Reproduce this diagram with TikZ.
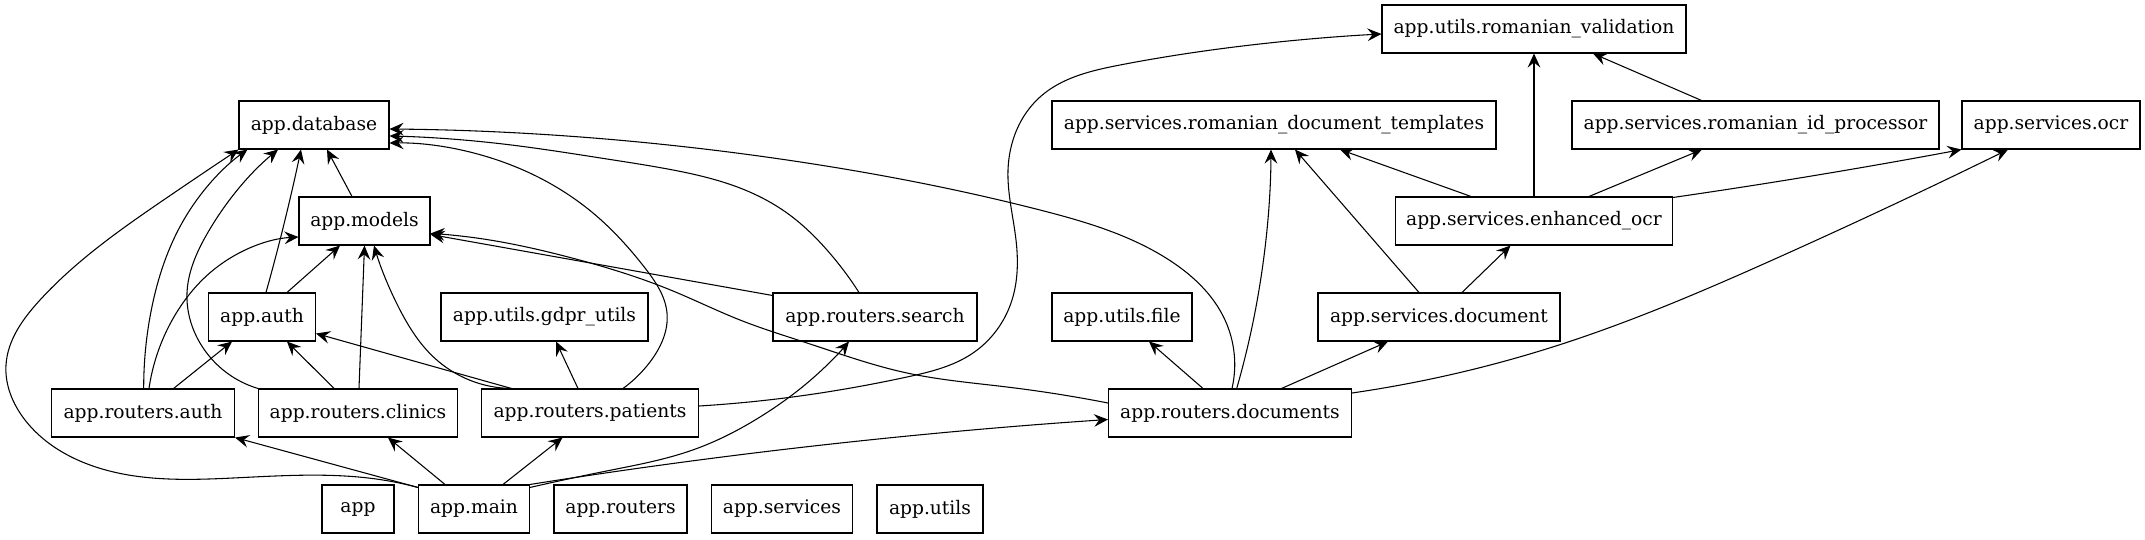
\documentclass[tikz,border=0pt]{standalone}
\usepackage{fontspec}
\newfontfamily\modfont{DejaVu Serif}
\usetikzlibrary{arrows.meta,calc,hobby}
\tikzset{
  mod/.style={draw, line width=0.8pt, minimum height=36pt, inner sep=0pt,
    font=\modfont\fontsize{14}{16}\selectfont},
  dep/.style={line width=0.8pt, -{Stealth[length=10.5pt,width=9.5pt,inset=3.8pt]}},
  curved/.style={dep, use Hobby shortcut},
}
\begin{document}
\begin{tikzpicture}[x=0.75pt,y=-0.75pt]
\fill[white] (0,0) rectangle (2145,539);
\useasboundingbox (0,0) rectangle (2145,539);
% nodes
\node[mod, minimum width=228pt]    (validation) at (1534,29)  {app.utils.romanian\_validation};
\node[mod, minimum width=112.5pt]  (database)   at (314,125)  {app.database};
\node[mod, minimum width=333pt]    (templates)  at (1274,125) {app.services.romanian\_document\_templates};
\node[mod, minimum width=275.25pt] (idproc)     at (1755.5,125) {app.services.romanian\_id\_processor};
\node[mod, minimum width=133.5pt]  (ocr)        at (2051,125) {app.services.ocr};
\node[mod, minimum width=98.25pt]  (models)     at (364.5,221) {app.models};
\node[mod, minimum width=207.75pt] (enhanced)   at (1534,221) {app.services.enhanced\_ocr};
\node[mod, minimum width=80.25pt]  (auth)       at (262,317)  {app.auth};
\node[mod, minimum width=155.25pt] (gdpr)       at (544.5,317) {app.utils.gdpr\_utils};
\node[mod, minimum width=153pt]    (search)     at (875,317)  {app.routers.search};
\node[mod, minimum width=105pt]    (file)       at (1122,317) {app.utils.file};
\node[mod, minimum width=181.5pt]  (sdoc)       at (1439,317) {app.services.document};
\node[mod, minimum width=137.25pt] (rauth)      at (143,413)  {app.routers.auth};
\node[mod, minimum width=149.25pt] (clinics)    at (358,413)  {app.routers.clinics};
\node[mod, minimum width=162.75pt] (patients)   at (590,413)  {app.routers.patients};
\node[mod, minimum width=182.25pt] (documents)  at (1230,413) {app.routers.documents};
\node[mod, minimum width=54pt]     (app)        at (358,509)  {app};
\node[mod, minimum width=83.25pt]  (main)       at (474,509)  {app.main};
\node[mod, minimum width=99.75pt]  (routers)    at (620.5,509) {app.routers};
\node[mod, minimum width=105.75pt] (services)   at (782,509)  {app.services};
\node[mod, minimum width=79.5pt]   (utils)      at (930,509)  {app.utils};
% anchor points for curved edges
\coordinate (a2) at ($(auth.north)+(4,0)$);
\coordinate (b2) at ($(database.south)+(-13,0)$);
\coordinate (a4) at ($(rauth.north)+(0.7,0)$);
\coordinate (b4) at ($(database.south west)+(9,0)$);
\coordinate (a5) at ($(rauth.north)+(6,0)$);
\coordinate (b5) at ($(models.west)+(0,16)$);
\coordinate (a7) at (clinics.north west);
\coordinate (b7) at ($(database.south)+(-36,0)$);
\coordinate (a11) at ($(patients.north west)+(30.5,0)$);
\coordinate (b11) at ($(models.south)+(9.5,0)$);
\coordinate (a13) at ($(patients.north)+(33,0)$);
\coordinate (b13) at ($(database.east)+(0,18)$);
\coordinate (a14) at ($(patients.east)+(0,-7)$);
\coordinate (b14) at ($(validation.west)+(0,5)$);
\coordinate (a15) at ($(search.north)+(-16,0)$);
\coordinate (b15) at ($(database.east)+(0,11)$);
\coordinate (a17) at ($(documents.west)+(0,-10)$);
\coordinate (b17) at ($(models.east)+(0,12.5)$);
\coordinate (a18) at ($(documents.north)+(2,0)$);
\coordinate (b18) at ($(database.east)+(0,4)$);
\coordinate (a20) at ($(documents.north)+(6.7,0)$);
\coordinate (b20) at ($(templates.south)+(-3,0)$);
\coordinate (a22) at ($(documents.east)+(0,-20)$);
\coordinate (b22) at ($(ocr.south)+(-43,0)$);
\coordinate (a28) at ($(enhanced.north east)+(0,1)$);
\coordinate (b28) at (ocr.south west);
\coordinate (a30) at ($(main.north west)+(0,3)$);
\coordinate (b30) at (database.south west);
\coordinate (a34) at ($(main.north east)+(0,3)$);
\coordinate (b34) at ($(search.south)+(-26,0)$);
\coordinate (a35) at (main.north east);
\coordinate (b35) at ($(documents.west)+(0,6.5)$);
% edges
\draw[dep] ($(models.north)+(-12.5,0)$) -- ($(database.south)+(13,0)$);
\draw[curved] (a2) .. (280,240) .. (b2);
\draw[dep] ($(auth.north)+(25,0)$) -- ($(models.south)+(-24.5,0)$);
\draw[curved] (a4) .. (151.5,309) .. (183.7,220) .. (b4);
\draw[curved] (a5) .. (174.5,316) .. (215.8,268) .. (b5);
\draw[dep] ($(rauth.north)+(30.6,0)$) -- ($(auth.south)+(-30,0)$);
\draw[curved] (a7) .. (227,373) .. (200,343) .. (187,293) .. (207,234) .. (b7);
\draw[dep] ($(clinics.north)+(-24,0)$) -- ($(auth.south)+(25,0)$);
\draw[dep] ($(clinics.north)+(1,0)$) -- (models.south);
\draw[dep] ($(patients.north west)+(30.5,0)$) -- ($(auth.east)+(0,16.5)$);
\draw[curved] (a11) .. (434,357.5) .. (399.5,309) .. (b11);
\draw[dep] ($(patients.north)+(-12,0)$) -- ($(gdpr.south)+(11.5,0)$);
\draw[curved] (a13) .. (650,362) .. (667,313) .. (645,268) .. (593,213) .. (503,162) .. (b13);
\draw[curved] (a14) .. (807,395) .. (907,377) .. (973,353) .. (1012,300) .. (1016,240) .. (1008,170) .. (1040,97) .. (1120,65) .. (1251,45) .. (b14);
\draw[curved] (a15) .. (827,250) .. (787,213) .. (740,188) .. (673,170) .. (607,159) .. (503,144) .. (b15);
\draw[dep] ($(search.north west)+(0,3)$) -- ($(models.east)+(0,13.5)$);
\draw[curved] (a17) .. (1007,387) .. (907,373) .. (807,343) .. (740,320) .. (673,291) .. (572,258) .. (469,237) .. (b17);
\draw[curved] (a18) .. (1225,320) .. (1166,258) .. (1040,210) .. (807,163) .. (b18);
\draw[dep] ($(documents.north)+(-27,0)$) -- ($(file.south)+(27,0)$);
\draw[curved] (a20) .. (1255.6,309) .. (b20);
\draw[dep] ($(documents.north)+(51.5,0)$) -- ($(sdoc.south)+(-51,0)$);
\draw[curved] (a22) .. (1562,344) .. (1777,258) .. (b22);
\draw[dep] ($(sdoc.north)+(-20,0)$) -- ($(templates.south)+(21,0)$);
\draw[dep] ($(sdoc.north)+(23,0)$) -- ($(enhanced.south)+(-23.5,0)$);
\draw[dep] ($(enhanced.north)+(-63,0)$) -- ($(templates.south)+(66,0)$);
\draw[dep] (enhanced.north) -- (validation.south);
\draw[dep] ($(enhanced.north)+(55,0)$) -- ($(idproc.south)+(-53.5,0)$);
\draw[curved] (a28) .. (1811.6,176) .. (b28);
\draw[dep] ($(idproc.north)+(-54,0)$) -- ($(validation.south)+(59,0)$);
\draw[curved] (a30) .. (383,480) .. (233,478) .. (90,465) .. (25,420) .. (6,365) .. (40,300) .. (165,199) .. (b30);
\draw[dep] ($(main.north west)+(0,3)$) -- (rauth.south east);
\draw[dep] ($(main.north)+(-29,0)$) -- ($(clinics.south)+(30,0)$);
\draw[dep] ($(main.north)+(29,0)$) -- ($(patients.south)+(-27.5,0)$);
\draw[curved] (a34) .. (606.6,471) .. (692.7,450) .. (761.6,416) .. (813,378) .. (b34);
\draw[curved] (a35) .. (779,450) .. (b35);
\end{tikzpicture}
\end{document}
